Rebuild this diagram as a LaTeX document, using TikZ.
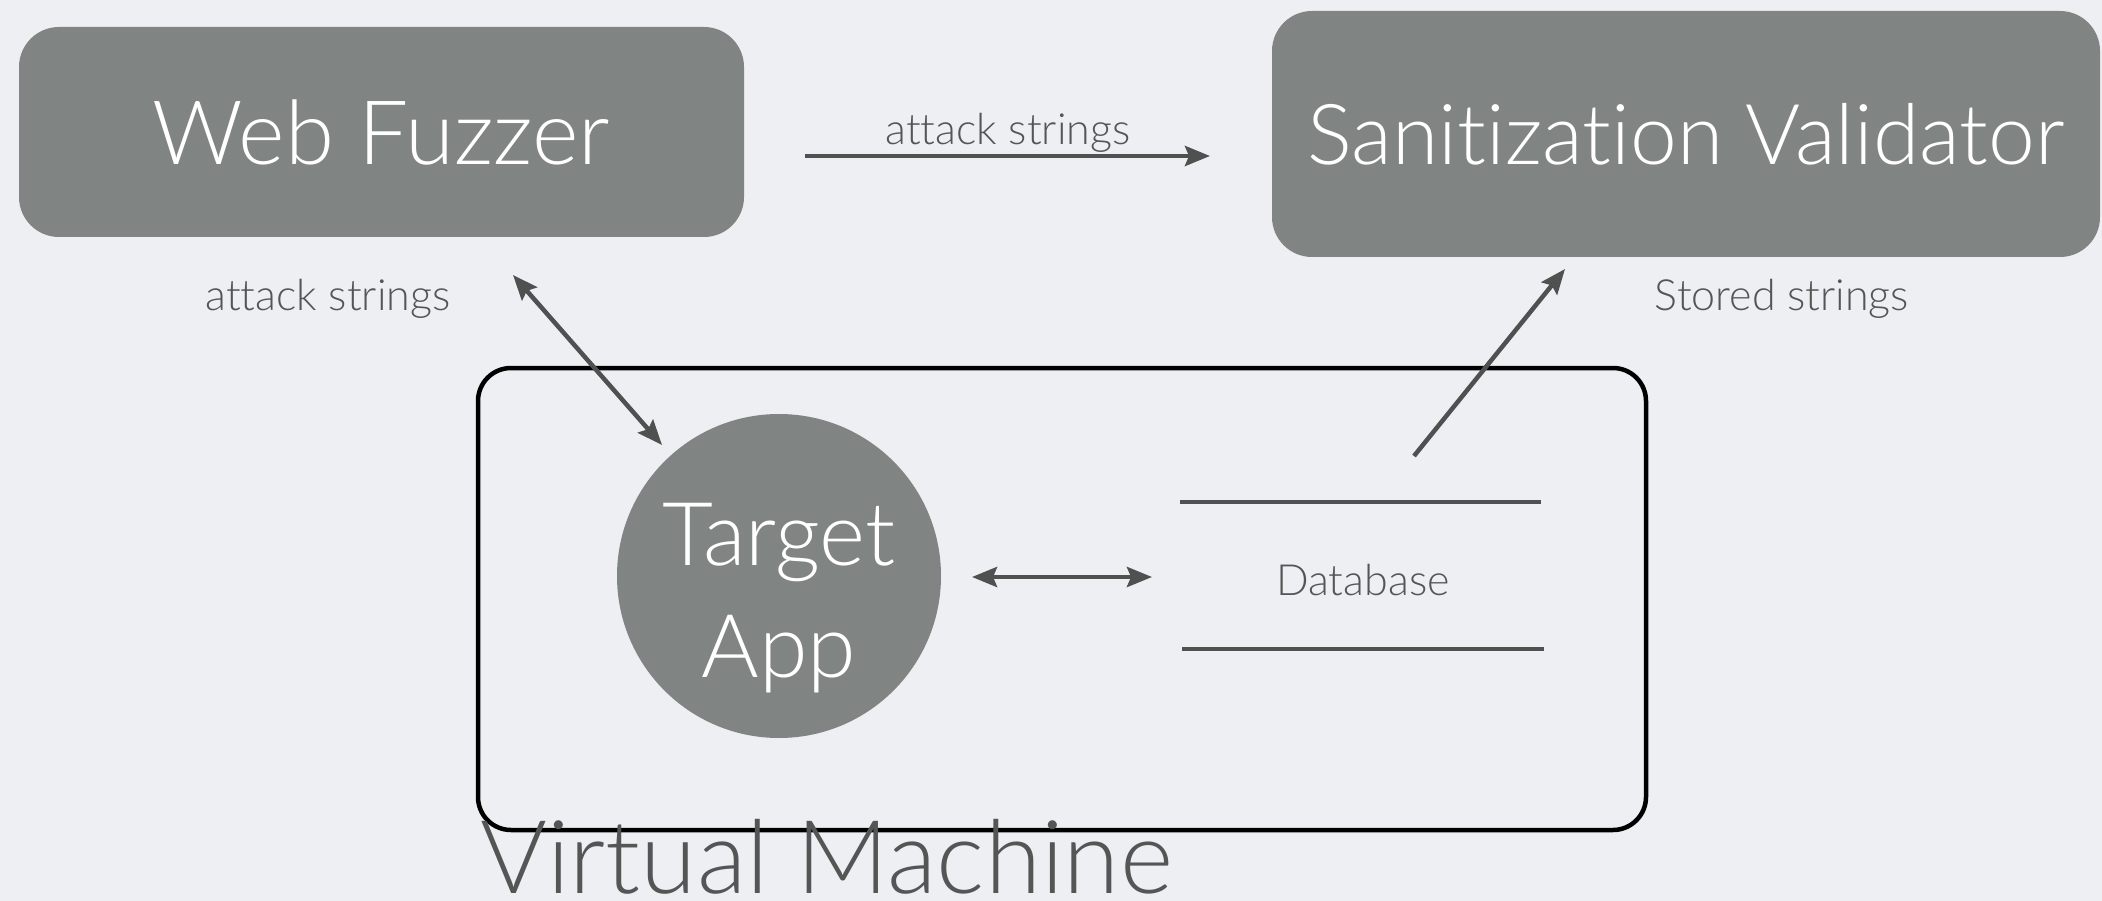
\documentclass[tikz,border=0pt]{standalone}
\usepackage{fontspec}
\setmainfont{Lato Light}[Ligatures={NoCommon}]
\usetikzlibrary{arrows.meta}
\definecolor{bgcol}{RGB}{238,239,242}
\definecolor{boxgray}{RGB}{128,133,131}
\definecolor{linegray}{RGB}{80,80,80}
\definecolor{textgray}{RGB}{85,85,85}
\tikzset{
  box/.style={fill=boxgray, draw=none, rounded corners=40pt, rectangle, text=white, inner sep=0pt},
  appcircle/.style={fill=boxgray, draw=none, circle, text=white, inner sep=0pt, minimum size=324pt},
  lbl/.style={text=textgray, font=\fontsize{43}{47}\selectfont, inner sep=0pt, anchor=base},
  conn/.style={draw=linegray, line width=4.5pt},
  tip/.style={-{Stealth[length=25pt,width=20pt,inset=4pt]}},
  tips/.style={{Stealth[length=25pt,width=20pt,inset=4pt]}-{Stealth[length=25pt,width=20pt,inset=4pt]}},
  vmbox/.style={draw=black, line width=4.5pt, rounded corners=33pt},
  dbline/.style={draw=linegray, line width=4.5pt}
}
\begin{document}
\begin{tikzpicture}[x=1pt,y=-1pt]
\fill[bgcol] (0,0) rectangle (2102,901);
\useasboundingbox (0,0) rectangle (2102,901);

% Virtual machine frame
\draw[vmbox] (478,368) rectangle (1646,830);
\node[lbl, anchor=base west, text depth=0pt, font=\fontsize{102}{108}\selectfont] (vm) at (480,893) {Virtual Machine};

% main nodes
\node[box, minimum width=725pt, minimum height=210pt, font=\fontsize{89}{95}\selectfont] (wf) at (381.5,132) {Web Fuzzer};
\node[box, minimum width=828pt, minimum height=246pt, font=\fontsize{84}{90}\selectfont] (sv) at (1686,134) {Sanitization Validator};
\node[appcircle] (app) at (779,576) {};
\node[text=white, align=center, font=\fontsize{88}{112}\selectfont, inner sep=0pt] (apptext) at (779,598) {Target\\App};

% database
\coordinate (dbt1) at (1180,502);
\coordinate (dbt2) at (1541,502);
\coordinate (dbb1) at (1182,649);
\coordinate (dbb2) at (1544,649);
\draw[dbline] (dbt1) -- (dbt2);
\draw[dbline] (dbb1) -- (dbb2);
\node[lbl] (db) at (1363,595) {Database};

% connectors
\coordinate (a1s) at (805,156);
\coordinate (a1e) at (1210,156);
\draw[conn, tip] (a1s) -- (a1e);
\node[lbl] (l1) at (1008,145) {attack strings};

\coordinate (a2s) at (513,275);
\coordinate (a2e) at (662,445);
\draw[conn, tips] (a2s) -- (a2e);
\node[lbl] (l2) at (328,311) {attack strings};

\coordinate (a3s) at (1414,456);
\coordinate (a3e) at (1565,269);
\draw[conn, tip] (a3s) -- (a3e);
\node[lbl] (l3) at (1782,311) {Stored strings};

\coordinate (a4s) at (972,577);
\coordinate (a4e) at (1152,577);
\draw[conn, tips] (a4s) -- (a4e);
\end{tikzpicture}
\end{document}
